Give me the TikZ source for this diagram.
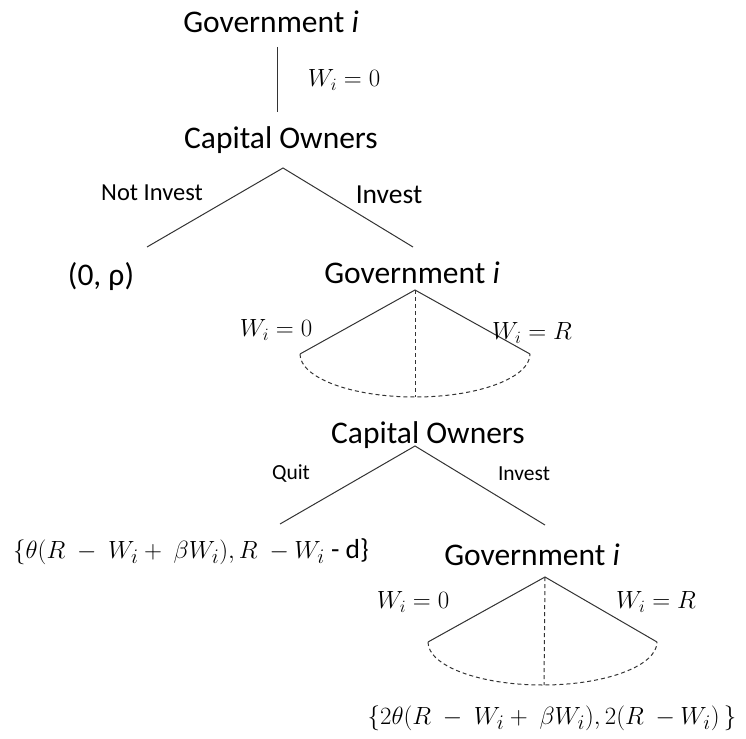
\documentclass[tikz,border=0pt]{standalone}
\usepackage{fontspec}
\setmainfont{Carlito}
\begin{document}
\begin{tikzpicture}[x=1pt,y=-1pt,
  big/.style={font=\fontsize{31.5}{36}\selectfont, inner sep=0pt},
  mid/.style={font=\fontsize{24.5}{28}\selectfont, inner sep=0pt},
  lab/.style={font=\fontsize{21.5}{25}\selectfont, inner sep=0pt},
  mth/.style={font=\fontsize{25}{29}\selectfont, inner sep=0pt},
  pay/.style={font=\fontsize{27.5}{32}\selectfont, inner sep=0pt},
  edge/.style={line width=1pt, draw=black!80},
  info/.style={line width=1pt, draw=black!80, dash pattern=on 4pt off 3pt}]
\useasboundingbox (0,0) rectangle (746,738);
% top
\node[big] (g1) at (271,22) {Government \textit{i}};
\coordinate (v1a) at (277,47);
\coordinate (v1b) at (277,112);
\draw[edge] (v1a) -- (v1b);
\node[mth] (w1) at (344,80) {$W_i = 0$};
\node[big] (c1) at (281,140) {Capital Owners};
\coordinate (a1) at (283,168);
\coordinate (l1) at (147,247);
\coordinate (r1) at (413,247);
\draw[edge] (l1) -- (a1) -- (r1);
\node[mid] (ni) at (152,193) {Not Invest};
\node[font=\fontsize{27.5}{31}\selectfont, inner sep=0pt] (inv1) at (389,195) {Invest};
\node[big] (p0) at (101,277) {(0, ρ)};
% second government
\node[big] (g2) at (412,273) {Government \textit{i}};
\coordinate (a2) at (415,290);
\coordinate (l2) at (300,354);
\coordinate (r2) at (530,354);
\coordinate (b2) at (415,397);
\draw[edge] (l2) -- (a2) -- (r2);
\draw[info] (a2) -- (b2);
\draw[info] (l2) arc[start angle=180, end angle=0, x radius=115, y radius=43];
\node[mth] (w2) at (276,330) {$W_i = 0$};
\node[mth] (w3) at (532,333) {$W_i = R$};
% second capital owners
\node[big] (c2) at (428,435) {Capital Owners};
\coordinate (a3) at (415,446);
\coordinate (l3) at (280,524);
\coordinate (r3) at (545,525);
\draw[edge] (l3) -- (a3) -- (r3);
\node[lab] (q) at (291,474) {Quit};
\node[lab] (inv2) at (524,474) {Invest};
\node[pay] (pay1) at (191,552) {$\{\theta(R\ -\ W_i +\ \beta W_i), R\ - W_i$ - d\}};
% third government
\node[big] (g3) at (532,555) {Government \textit{i}};
\coordinate (a4) at (545,577);
\coordinate (l4) at (428,642);
\coordinate (r4) at (657,642);
\coordinate (b4) at (544,685);
\draw[edge] (l4) -- (a4) -- (r4);
\draw[info] (a4) -- (b4);
\draw[info] (l4) arc[start angle=180, end angle=0, x radius=114.5, y radius=43];
\node[mth] (w4) at (413,602) {$W_i = 0$};
\node[mth] (w5) at (656,602) {$W_i = R$};
\node[pay] (pay2) at (552,718) {$\{2\theta(R\ -\ W_i +\ \beta W_i), 2(R\ - W_i)\,\}$};
\end{tikzpicture}
\end{document}
